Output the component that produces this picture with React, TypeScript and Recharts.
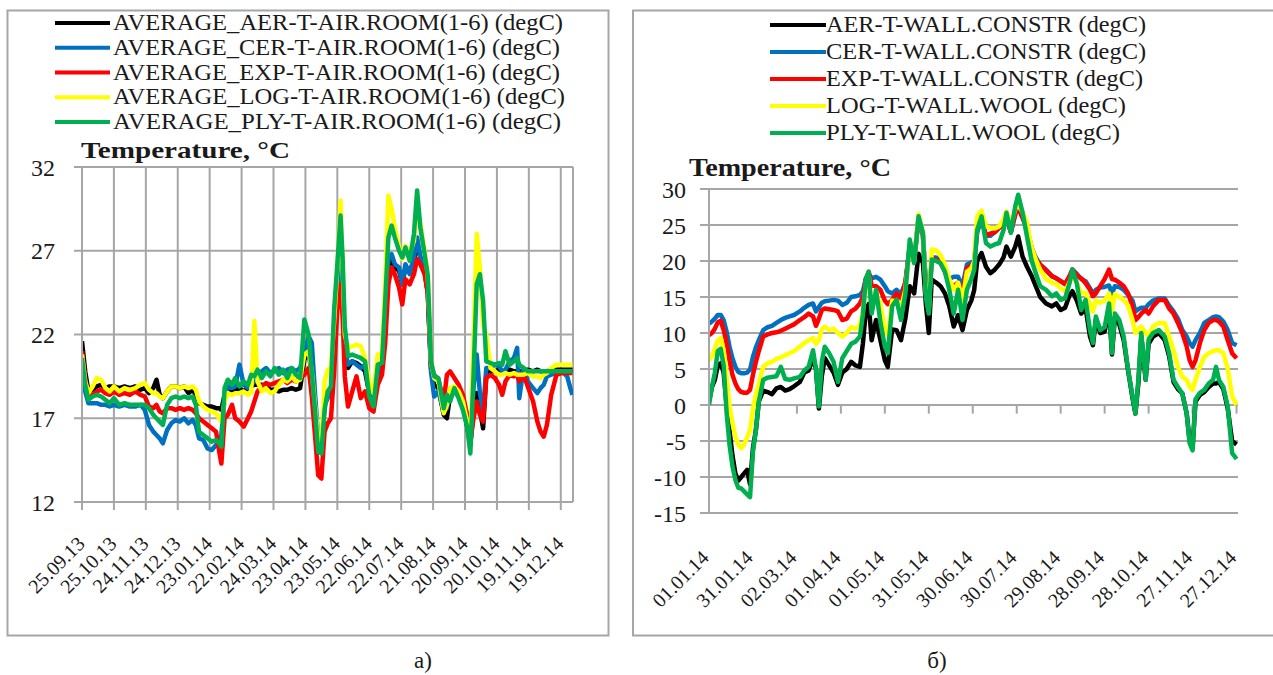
import React from "react";
import { CartesianGrid, Line, LineChart, ReferenceLine, XAxis, YAxis } from "recharts";

const SERIF = "'Liberation Serif', 'DejaVu Serif', 'Times New Roman', serif";
const GRID = "#a6a6a6";
const INK = "#1a1a1a";

// AER, CER, EXP, LOG, PLY - same order and colours in both panels
const seriesKeys = ["aer", "cer", "exp", "log", "ply"];
const seriesColors = ["#000000", "#0070c0", "#ff0000", "#ffff00", "#00b050"];

const leftNames = [
  "AVERAGE_AER-T-AIR.ROOM(1-6) (degC)",
  "AVERAGE_CER-T-AIR.ROOM(1-6) (degC)",
  "AVERAGE_EXP-T-AIR.ROOM(1-6) (degC)",
  "AVERAGE_LOG-T-AIR.ROOM(1-6) (degC)",
  "AVERAGE_PLY-T-AIR.ROOM(1-6) (degC)",
];
const rightNames = [
  "AER-T-WALL.CONSTR (degC)",
  "CER-T-WALL.CONSTR (degC)",
  "EXP-T-WALL.CONSTR (degC)",
  "LOG-T-WALL.WOOL (degC)",
  "PLY-T-WALL.WOOL (degC)",
];

// panel a) : days counted from 25.09.13
const leftTickDays = [0, 30, 60, 90, 120, 150, 180, 210, 240, 270, 300, 330, 360, 390, 420, 450];
const leftTickLabels = [
  "25.09.13", "25.10.13", "24.11.13", "24.12.13", "23.01.14", "22.02.14", "24.03.14", "23.04.14",
  "23.05.14", "22.06.14", "22.07.14", "21.08.14", "20.09.14", "20.10.14", "19.11.14", "19.12.14",
];
const leftYTicks = [12, 17, 22, 27, 32];

const leftDays = [
  0, 3, 6, 10, 14, 18, 22, 26, 30, 35,
  40, 45, 50, 55, 59, 63, 67, 70, 73, 76,
  80, 84, 88, 92, 96, 100, 104, 107, 110, 114,
  118, 122, 126, 129, 131, 134, 137, 141, 144, 148,
  152, 156, 159, 162, 165, 169, 173, 177, 181, 185,
  189, 193, 197, 201, 205, 209, 213, 216, 219, 222,
  225, 228, 231, 234, 237, 240, 243, 245, 247, 250,
  254, 258, 262, 266, 270, 274, 278, 282, 285, 288,
  291, 294, 298, 301, 304, 308, 312, 315, 318, 322,
  325, 328, 331, 335, 340, 343, 346, 350, 354, 358,
  362, 365, 368, 371, 374, 377, 380, 384, 388, 392,
  395, 398, 402, 406, 409, 411, 415, 419, 424, 428,
  431, 434, 437, 441, 446, 451, 456, 459, 461,
];
const leftAer = [
  21.6, 19.8, 18.6, 18.7, 18.9, 19.0, 18.8, 18.9, 18.9, 18.8,
  18.9, 18.8, 18.9, 18.7, 18.8, 18.5, 18.8, 19.3, 18.4, 18.2,
  18.6, 18.9, 18.9, 18.8, 18.9, 18.5, 18.7, 18.4, 17.9, 17.8,
  17.7, 17.7, 17.6, 17.6, 17.5, 18.4, 18.6, 18.6, 18.7, 18.8,
  18.6, 18.8, 18.9, 19.0, 19.0, 19.0, 18.9, 18.7, 18.7, 18.6,
  18.7, 18.7, 18.8, 18.7, 18.8, 20.5, 21.0, 19.5, 17.5, 15.2,
  15.0, 17.8, 18.4, 18.5, 21.5, 25.0, 27.5, 25.0, 21.5, 20.0,
  20.4, 20.3, 20.1, 19.8, 18.5, 17.8, 19.8, 20.1, 23.0, 26.0,
  26.6, 26.0, 25.8, 25.0, 26.0, 25.8, 26.4, 27.5, 26.6, 25.8,
  24.5, 20.0, 19.0, 18.8, 17.2, 17.0, 18.4, 18.6, 18.4, 17.8,
  16.5, 15.4, 17.5, 18.5, 17.5, 16.4, 19.6, 19.8, 19.8, 19.9,
  19.8, 19.8, 19.9, 19.8, 19.8, 19.8, 19.8, 19.9, 19.8, 19.9,
  19.8, 19.8, 19.8, 19.9, 19.9, 19.9, 19.9, 19.9, 19.9,
];
const leftCer = [
  20.5, 18.6, 17.9, 17.9, 17.9, 17.8, 17.8, 17.7, 17.8, 17.7,
  17.8, 17.7, 17.7, 17.8, 17.5, 16.6, 16.2, 16.0, 15.8, 15.5,
  16.3, 16.7, 16.9, 16.8, 17.0, 16.7, 16.9, 16.6, 15.8, 15.7,
  15.2, 15.1, 15.4, 15.6, 16.0, 18.2, 18.9, 18.8, 18.9, 20.2,
  19.0, 18.8, 19.0, 19.2, 19.3, 19.8, 20.0, 19.7, 19.8, 20.0,
  19.7, 19.9, 20.0, 19.8, 20.0, 20.8, 21.9, 21.5, 18.5, 15.8,
  15.2, 17.8, 18.2, 18.5, 21.0, 24.5, 27.0, 24.8, 21.0, 20.2,
  20.4, 20.2, 20.0, 20.2, 18.5, 17.8, 19.9, 20.1, 23.5, 26.5,
  26.8, 26.2, 26.0, 25.0, 26.2, 25.6, 26.6, 27.8, 26.6, 25.8,
  24.5, 19.8, 18.3, 18.6, 17.4, 17.6, 18.6, 18.6, 18.3, 17.8,
  16.8, 15.6, 18.8, 20.8, 18.5, 17.4, 20.0, 20.0, 20.2, 20.1,
  19.8, 19.9, 20.4, 20.6, 21.2, 18.2, 20.0, 19.2, 18.8, 18.5,
  18.8, 19.0, 19.5, 19.6, 19.7, 19.8, 19.5, 18.8, 18.4,
];
const leftExp = [
  21.0, 19.4, 18.4, 18.4, 18.6, 18.7, 18.5, 18.4, 18.6, 18.4,
  18.5, 18.4, 18.6, 18.4, 18.3, 17.7, 17.6, 17.8, 17.4, 17.3,
  17.6, 17.6, 17.5, 17.6, 17.5, 17.6, 17.5, 17.3, 17.0, 16.8,
  16.6, 16.4, 16.2, 15.0, 14.3, 17.0, 17.2, 17.8, 17.0, 16.8,
  16.5, 17.0, 17.4, 18.0, 18.6, 18.9, 19.1, 19.0, 19.1, 19.2,
  19.3, 19.1, 19.3, 19.2, 19.4, 19.6, 20.0, 18.3, 16.0, 13.6,
  13.4, 16.2, 16.7, 17.0, 19.8, 23.5, 25.0, 23.0, 19.5, 17.7,
  18.6, 19.5, 18.2, 18.6, 17.6, 17.4, 19.0, 19.6, 21.5, 25.0,
  26.0, 25.6, 24.8, 23.8, 25.3, 25.0, 25.6, 26.5, 26.2, 25.6,
  24.5, 20.2, 19.6, 19.3, 18.0, 19.6, 19.8, 19.4, 19.0, 18.4,
  17.2, 15.6, 17.0, 18.0, 17.2, 16.8, 19.4, 19.6, 19.4, 19.0,
  18.4, 19.2, 19.6, 19.5, 19.6, 19.2, 19.6, 18.9, 18.0, 16.8,
  16.2, 15.9, 16.6, 18.4, 19.6, 19.7, 19.7, 19.7, 19.7,
];
const leftLog = [
  20.8, 19.2, 18.5, 18.9, 19.4, 19.3, 18.8, 18.6, 18.9, 18.6,
  18.8, 18.7, 18.8, 19.0, 19.1, 18.7, 18.5, 18.5, 18.3, 18.2,
  18.6, 18.9, 18.9, 18.8, 18.9, 18.8, 18.9, 18.7, 18.0, 17.7,
  17.5, 17.4, 17.3, 17.0, 16.8, 18.0, 18.5, 18.4, 18.5, 18.5,
  18.6, 18.4, 18.5, 22.8, 19.2, 18.6, 18.8, 18.5, 18.6, 19.0,
  19.3, 19.2, 19.5, 19.2, 19.3, 20.8, 21.0, 19.8, 17.8, 15.8,
  15.1, 19.2, 19.9, 20.0, 22.8, 26.0, 30.0, 26.0, 22.0, 21.2,
  21.3, 21.4, 21.3, 20.6, 19.2, 18.5, 20.8, 20.9, 25.0, 30.3,
  29.5, 28.4, 27.2, 26.5, 27.3, 26.8, 27.6, 29.8, 28.6, 27.0,
  25.6, 20.4, 19.4, 19.2, 17.3, 17.8, 18.8, 18.9, 18.6, 18.0,
  16.8, 15.5, 21.5, 28.0, 26.0, 22.5, 22.0, 20.0, 19.8, 19.6,
  19.6, 19.7, 19.6, 19.7, 19.6, 19.6, 19.6, 19.7, 19.5, 19.5,
  19.4, 19.6, 19.7, 20.0, 20.2, 20.2, 20.2, 20.2, 20.2,
];
const leftPly = [
  20.6, 19.0, 18.1, 18.3, 18.4, 18.3, 18.1, 17.9, 18.2, 17.8,
  17.9, 17.8, 17.8, 17.8, 17.8, 17.6, 17.2, 17.0, 16.8, 16.6,
  17.8, 18.2, 18.3, 18.2, 18.3, 18.2, 18.3, 17.8, 16.2, 16.0,
  15.8, 15.6, 15.7, 15.5, 15.3, 18.8, 19.3, 19.0, 19.4, 18.9,
  19.2, 19.0, 19.6, 19.5, 19.9, 19.4, 19.8, 19.5, 20.0, 19.6,
  19.9, 19.4, 20.0, 19.6, 19.4, 22.9, 22.0, 19.7, 17.5, 15.0,
  14.9, 17.5, 18.6, 18.9, 23.5, 26.2, 29.1, 26.5, 22.5, 20.7,
  20.8, 20.7, 20.6, 20.4, 18.3, 17.7, 20.2, 20.3, 24.0, 27.8,
  28.5, 27.8, 27.0, 26.6, 27.2, 26.4, 28.0, 30.6, 28.4, 26.8,
  25.5, 20.4, 19.5, 19.4, 17.6, 18.4, 18.0, 18.8, 18.2, 17.5,
  16.5, 14.9, 19.5, 25.0, 25.6, 24.0, 20.4, 20.3, 20.2, 20.3,
  20.2, 21.0, 20.2, 20.4, 20.6, 20.2, 20.0, 19.8, 19.8, 19.8,
  19.8, 19.8, 19.8, 19.8, 19.8, 19.8, 19.8, 19.8, 19.8,
];

// panel б) : days counted from 01.01.14
const rightTickDays = [0, 30, 60, 90, 120, 150, 180, 210, 240, 270, 300, 330, 360];
const rightTickLabels = [
  "01.01.14", "31.01.14", "02.03.14", "01.04.14", "01.05.14", "31.05.14", "30.06.14",
  "30.07.14", "29.08.14", "28.09.14", "28.10.14", "27.11.14", "27.12.14",
];
const rightYTicks = [-15, -10, -5, 0, 5, 10, 15, 20, 25, 30];

const rightDays = [
  0, 2, 4, 6, 8, 10, 12, 14, 16, 18,
  20, 22, 24, 26, 28, 30, 32, 34, 37, 40,
  43, 46, 49, 52, 55, 58, 62, 65, 68, 71,
  73, 75, 77, 79, 82, 85, 88, 91, 94, 97,
  100, 103, 105, 107, 109, 111, 114, 117, 120, 122,
  125, 128, 131, 134, 137, 140, 143, 146, 148, 150,
  152, 155, 158, 161, 164, 167, 170, 173, 176, 179,
  181, 183, 186, 189, 192, 195, 198, 201, 203, 206,
  209, 211, 214, 217, 220, 223, 226, 230, 234, 237,
  240, 243, 246, 248, 251, 254, 257, 260, 262, 264,
  267, 270, 273, 275, 277, 280, 283, 286, 289, 291,
  293, 295, 298, 300, 303, 307, 311, 314, 317, 320,
  323, 326, 328, 330, 332, 335, 338, 341, 344, 346,
  348, 351, 354, 357, 360,
];
const rightAer = [
  0.5, 2.5, 3.5, 5.5, 5.8, 4.5, 0.0, -3.5, -7.0, -9.5,
  -10.5, -10.0, -9.5, -9.0, -11.0, -6.0, -3.5, 0.5, 2.0, 1.8,
  1.5, 2.3, 2.5, 2.0, 2.2, 2.6, 3.2, 4.5, 4.8, 6.5,
  5.0, -0.5, 4.0, 6.5, 5.5, 4.5, 2.8, 4.5, 5.0, 6.0,
  5.5, 5.3, 8.5, 13.0, 14.0, 9.0, 11.8, 9.0, 6.2, 5.3,
  10.5, 10.4, 9.0, 12.0, 16.5, 15.5, 21.0, 19.7, 14.0, 10.0,
  17.4, 17.0, 16.5, 15.5, 13.7, 10.9, 12.5, 10.4, 13.2, 14.5,
  16.0, 20.0, 21.1, 19.2, 18.3, 18.8, 19.5, 20.5, 22.0, 20.6,
  22.0, 23.4, 20.6, 19.2, 18.0, 16.5, 15.0, 14.1, 13.7, 14.1,
  13.2, 13.5, 15.2, 15.8, 14.5, 12.7, 13.5, 9.5, 8.3, 11.8,
  10.0, 10.2, 13.5, 7.0, 12.3, 11.2, 9.0, 4.8, 1.0, -1.2,
  3.0, 9.5, 3.5, 8.5, 9.5, 10.0, 9.0, 6.8, 3.2, 2.2,
  1.6, -1.2, -5.0, -6.0, 0.5, 1.4, 1.8, 2.5, 3.0, 3.0,
  3.2, 2.2, -0.5, -5.0, -5.5,
];
const rightCer = [
  11.3, 11.6, 12.0, 12.5, 12.5, 11.8, 10.2, 8.1, 6.5, 5.3,
  4.6, 4.4, 4.4, 4.5, 4.9, 6.7, 8.0, 9.0, 10.4, 10.8,
  11.0, 11.4, 11.8, 12.1, 12.3, 12.5, 13.0, 13.5, 13.9, 14.1,
  13.0, 13.6, 14.2, 14.4, 14.5, 14.6, 14.5, 13.9, 14.2, 15.0,
  15.1, 15.3, 15.8, 17.5, 18.2, 17.6, 17.8, 17.4, 16.5, 15.8,
  15.5, 16.0, 15.4, 17.0, 22.0, 20.0, 26.0, 23.5, 17.0, 14.0,
  20.5, 20.5, 20.0, 19.0, 17.5, 17.8, 17.8, 16.5, 19.5, 19.8,
  20.0, 24.0, 25.8, 23.5, 23.5, 24.0, 24.6, 25.0, 26.0, 24.0,
  26.5, 27.5, 26.0, 24.5, 21.8, 20.5, 19.5, 18.8, 17.9, 17.6,
  17.2, 16.8, 17.8, 18.8, 18.2, 17.5, 17.2, 16.2, 15.5, 16.0,
  16.3, 16.4, 16.6, 15.5, 16.5, 16.4, 16.0, 15.3, 14.5, 13.0,
  13.3, 13.5, 13.5, 14.0, 14.5, 14.8, 14.8, 13.8, 13.0, 12.0,
  10.4, 9.5, 8.6, 8.1, 9.0, 10.0, 11.4, 11.8, 12.2, 12.3,
  12.2, 11.6, 10.4, 8.6, 8.3,
];
const rightExp = [
  9.7, 10.0, 10.6, 11.5, 11.7, 10.4, 8.6, 6.2, 4.2, 3.0,
  2.2, 1.8, 1.7, 1.7, 2.1, 4.2, 6.0, 7.5, 9.5, 9.8,
  10.0, 10.1, 10.3, 10.6, 10.9, 11.2, 11.8, 12.2, 12.7, 12.3,
  11.0, 12.0, 13.2, 13.4, 13.3, 13.2, 13.0, 11.8, 12.0, 13.0,
  13.4, 14.1, 15.0, 17.5, 18.5, 16.6, 16.5, 16.0, 14.5, 14.0,
  14.6, 15.5, 14.8, 17.0, 22.0, 20.0, 26.0, 23.5, 16.5, 13.5,
  20.3, 20.2, 19.8, 18.5, 17.0, 16.5, 17.0, 15.5, 19.0, 19.4,
  19.8, 24.5, 26.0, 23.5, 23.8, 24.0, 24.6, 25.0, 26.0, 24.0,
  26.5, 27.5, 26.0, 24.5, 22.0, 20.2, 19.5, 18.7, 17.9, 17.6,
  17.2, 16.8, 17.9, 18.8, 18.0, 17.6, 16.9, 16.0, 15.1, 15.5,
  16.5, 17.5, 18.8, 17.5, 17.4, 17.0, 16.5, 15.5, 13.7, 11.8,
  12.2, 12.7, 13.2, 12.7, 13.7, 14.6, 14.6, 13.4, 12.7, 11.4,
  10.0, 8.1, 6.2, 5.3, 6.2, 8.6, 10.4, 11.4, 11.8, 11.8,
  11.6, 10.9, 9.0, 7.2, 6.5,
];
const rightLog = [
  6.2, 6.8, 7.8, 9.0, 9.3, 7.6, 4.0, -0.2, -2.5, -4.4,
  -5.5, -6.0, -5.5, -4.5, -3.5, -0.5, 1.5, 3.0, 5.3, 5.8,
  6.0, 6.4, 6.6, 6.9, 7.2, 7.5, 8.1, 8.6, 9.0, 9.3,
  8.5, 9.0, 10.5, 10.9, 10.4, 10.6, 10.0, 9.5, 10.0, 10.8,
  10.6, 11.0, 13.0, 16.5, 18.0, 14.0, 15.5, 14.0, 10.5, 9.8,
  14.5, 14.4, 13.5, 16.0, 22.0, 20.0, 26.5, 24.0, 15.5, 13.0,
  21.6, 21.5, 20.8, 19.5, 17.5, 16.0, 17.0, 14.5, 18.5, 19.0,
  20.0, 26.2, 27.0, 24.8, 24.6, 24.5, 24.8, 25.8, 26.9, 25.0,
  27.2, 27.8, 26.8, 25.3, 22.0, 20.2, 18.8, 17.5, 17.0, 16.8,
  16.2, 15.8, 17.0, 18.0, 17.0, 15.5, 15.6, 14.0, 13.0, 14.5,
  14.2, 14.5, 15.5, 13.0, 15.4, 15.0, 14.6, 13.8, 11.8, 10.0,
  10.5, 10.9, 10.0, 9.5, 10.9, 11.4, 11.4, 9.5, 7.6, 5.3,
  3.9, 3.5, 2.5, 2.1, 3.5, 5.3, 6.7, 7.2, 7.5, 7.6,
  7.6, 7.2, 5.0, 1.2, 0.0,
];
const rightPly = [
  0.0, 2.5, 4.5, 7.5, 7.8, 5.5, -1.0, -5.5, -8.5, -10.4,
  -11.5, -11.6, -12.0, -12.4, -12.8, -6.5, -3.5, 0.5, 3.5, 3.8,
  3.9, 4.0, 5.3, 3.6, 3.5, 3.7, 3.9, 4.8, 5.3, 7.6,
  5.0, -0.2, 6.0, 8.1, 7.2, 6.0, 3.2, 6.5, 7.5, 8.5,
  8.8, 9.5, 12.5, 17.5, 18.5, 12.7, 16.0, 11.5, 8.1, 7.2,
  13.7, 14.6, 11.8, 15.5, 23.0, 19.7, 26.2, 23.9, 15.0, 12.7,
  20.2, 20.0, 19.7, 18.5, 16.0, 12.7, 16.0, 11.8, 16.0, 17.5,
  18.8, 24.3, 26.2, 22.5, 22.0, 22.3, 22.5, 24.3, 26.7, 23.9,
  27.6, 29.2, 26.7, 23.4, 20.2, 18.3, 16.5, 16.0, 15.1, 15.5,
  14.6, 14.8, 16.9, 18.8, 16.9, 13.2, 14.6, 10.4, 8.6, 12.3,
  10.4, 10.8, 14.1, 7.2, 12.7, 11.8, 9.5, 4.9, 1.2, -1.2,
  3.5, 10.0, 3.5, 9.1, 10.0, 10.4, 9.5, 7.2, 3.5, 2.5,
  1.6, -1.2, -5.3, -6.3, 0.8, 1.7, 2.1, 3.0, 3.5, 5.3,
  3.5, 2.5, -0.2, -6.7, -7.5,
];

function buildRows(days: number[], series: number[][]) {
  return days.map((day, i) => {
    const row: Record<string, number> = { day };
    seriesKeys.forEach((key, s) => {
      row[key] = series[s][i];
    });
    return row;
  });
}

const leftData = buildRows(leftDays, [leftAer, leftCer, leftExp, leftLog, leftPly]);
const rightData = buildRows(rightDays, [rightAer, rightCer, rightExp, rightLog, rightPly]);

const textStyle = { fontFamily: SERIF };

function dateTick(tickDays: number[], labels: string[], dx: number, dy: number) {
  return (props: any) => {
    const { x, y, payload } = props;
    const label = labels[tickDays.indexOf(payload.value)];
    const ax = x + dx;
    const ay = y + dy;
    return (
      <text
        x={ax}
        y={ay}
        textAnchor="end"
        transform={`rotate(-45 ${ax} ${ay})`}
        style={textStyle}
        fontSize={20}
        fill={INK}
      >
        {label}
      </text>
    );
  };
}

const yTickStyle = { fontSize: 24, fill: INK, style: textStyle };
const gridLine = { stroke: GRID, strokeWidth: 2 };

function seriesLines() {
  return seriesKeys.map((key, s) => (
    <Line
      key={key}
      dataKey={key}
      type="linear"
      stroke={seriesColors[s]}
      strokeWidth={4.5}
      strokeLinejoin="round"
      dot={false}
      activeDot={false}
      isAnimationActive={false}
    />
  ));
}

function LegendBlock({ names, lineX, textX, top, step, size, widths }: any) {
  return (
    <g>
      {names.map((name: string, i: number) => {
        const y = top + i * step;
        return (
          <g key={name}>
            <line x1={lineX[0]} x2={lineX[1]} y1={y} y2={y} stroke={seriesColors[i]} strokeWidth={4} />
            <text
              x={textX}
              y={y + 7}
              style={textStyle}
              fontSize={size}
              fill={INK}
              textLength={widths[i]}
              lengthAdjust="spacingAndGlyphs"
            >
              {name}
            </text>
          </g>
        );
      })}
    </g>
  );
}

export default function App() {
  return (
    <div
      style={{
        position: "absolute",
        left: 0,
        top: 0,
        width: 1273,
        height: 675,
        overflow: "hidden",
        background: "#ffffff",
        fontFamily: SERIF,
      }}
    >
      <div style={{ position: "absolute", left: 0, top: 0 }}>
        <LineChart width={609} height={637} data={leftData} margin={{ top: 167, right: 36, bottom: 35, left: 0 }}>
          <CartesianGrid stroke={GRID} strokeWidth={2} />
          <XAxis
            dataKey="day"
            type="number"
            domain={[0, 461.5]}
            allowDataOverflow
            ticks={leftTickDays}
            interval={0}
            height={100}
            tickSize={8}
            tickMargin={0}
            axisLine={gridLine}
            tickLine={gridLine}
            tick={dateTick(leftTickDays, leftTickLabels, 4, 35)}
          />
          <YAxis
            type="number"
            domain={[12, 32]}
            allowDataOverflow
            ticks={leftYTicks}
            interval={0}
            width={82}
            tickSize={8}
            tickMargin={19}
            axisLine={gridLine}
            tickLine={gridLine}
            tick={yTickStyle}
          />
          {seriesLines()}
        </LineChart>
      </div>

      <div style={{ position: "absolute", left: 620, top: 0 }}>
        <LineChart width={653} height={637} data={rightData} margin={{ top: 189, right: 35, bottom: 24, left: 0 }}>
          <CartesianGrid stroke={GRID} strokeWidth={2} vertical={false} />
          <XAxis
            dataKey="day"
            type="number"
            domain={[0, 361]}
            allowDataOverflow
            ticks={rightTickDays}
            interval={0}
            height={100}
            tickSize={0}
            tickMargin={0}
            axisLine={false}
            tickLine={false}
            tick={dateTick(rightTickDays, rightTickLabels, 1, 46)}
          />
          <YAxis
            type="number"
            domain={[-15, 30]}
            allowDataOverflow
            ticks={rightYTicks}
            interval={0}
            width={89}
            tickSize={9}
            tickMargin={14}
            axisLine={gridLine}
            tickLine={gridLine}
            tick={yTickStyle}
          />
          {rightTickDays.map((d) => (
            <ReferenceLine
              key={d}
              segment={[
                { x: d, y: 0 },
                { x: d, y: -1.2 },
              ]}
              stroke={GRID}
              strokeWidth={2}
            />
          ))}
          {seriesLines()}
        </LineChart>
      </div>

      <svg
        width={1273}
        height={675}
        style={{ position: "absolute", left: 0, top: 0, pointerEvents: "none" }}
      >
        <rect x={7.5} y={10.5} width={601} height={625} fill="none" stroke={GRID} strokeWidth={2} />
        <rect x={633} y={10.5} width={700} height={625} fill="none" stroke={GRID} strokeWidth={2} />

        <LegendBlock
          names={leftNames}
          lineX={[55, 110]}
          textX={113}
          top={23}
          step={24.75}
          size={23}
          widths={[450, 447, 447, 452, 448]}
        />
        <LegendBlock
          names={rightNames}
          lineX={[770, 826]}
          textX={826}
          top={25}
          step={27}
          size={24}
          widths={[320, 320, 317, 300, 294]}
        />

        <text x={81} y={158} style={textStyle} fontWeight="bold" fontSize={24} fill={INK} textLength={209} lengthAdjust="spacingAndGlyphs">
          Temperature, °C
        </text>
        <text x={689} y={176} style={textStyle} fontWeight="bold" fontSize={26} fill={INK} textLength={202} lengthAdjust="spacingAndGlyphs">
          Temperature, °C
        </text>

        <text x={423} y={668} textAnchor="middle" style={textStyle} fontSize={23} fill={INK}>
          а)
        </text>
        <text x={937} y={668} textAnchor="middle" style={textStyle} fontSize={23} fill={INK}>
          б)
        </text>
      </svg>
    </div>
  );
}
